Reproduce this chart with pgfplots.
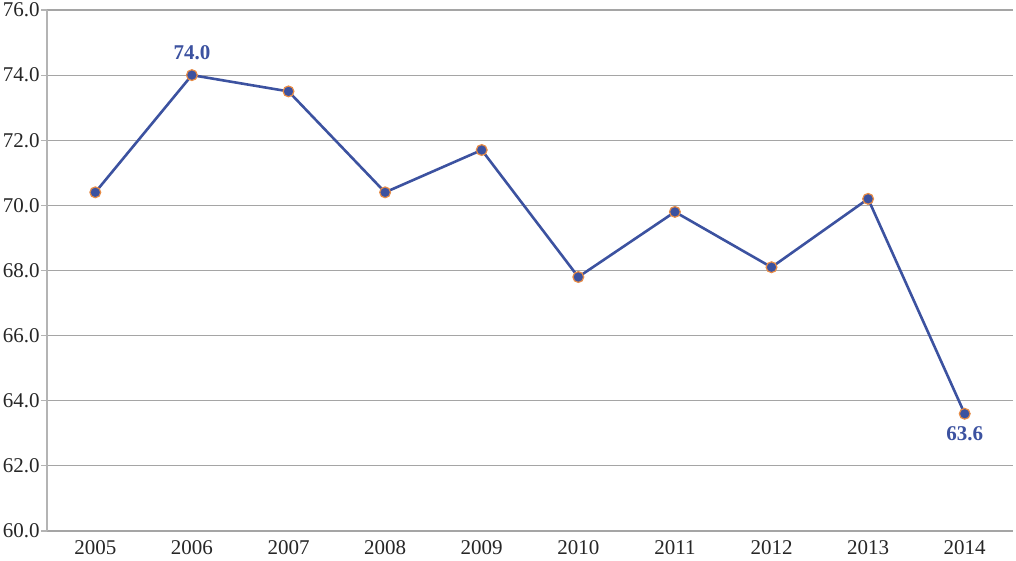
\documentclass[border=0pt]{standalone}
\usepackage{pgfplots}
\pgfplotsset{compat=1.18}
\usepackage{fontspec}
\setmainfont{Liberation Serif}
\usetikzlibrary{calc}
\definecolor{lineblue}{RGB}{60,82,160}
\definecolor{mkorange}{RGB}{232,140,70}
\definecolor{gridgray}{RGB}{165,165,165}
\definecolor{axgray}{RGB}{180,180,180}
\begin{document}
\begin{tikzpicture}
\begin{axis}[
  scale only axis,
  width=483pt, height=260.5pt,
  xmin=-0.5, xmax=9.5,
  ymin=60, ymax=76,
  ytick={60,62,...,76},
  xtick={0,...,9},
  xticklabels={2005,2006,2007,2008,2009,2010,2011,2012,2013,2014},
  extra x ticks={-0.5,0.5,...,9.5},
  extra x tick labels={},
  extra x tick style={major tick length=3pt, tick style={axgray, line width=0.6pt}, grid=none},
  x tick style={draw=none},
  ymajorgrids,
  grid style={gridgray, line width=0.6pt},
  axis x line*=bottom,
  axis y line*=left,
  x axis line style={gridgray, line width=0.7pt, -},
  y axis line style={axgray, line width=0.7pt, -},
  y tick style={axgray, line width=0.6pt},
  tick align=outside,
  major tick length=3pt,
  tick label style={font=\fontsize{10.5}{12}\selectfont, text=black!85},
  /pgf/number format/assume math mode=true,
  yticklabel style={/pgf/number format/.cd, fixed, fixed zerofill, precision=1, /tikz/.cd, inner xsep=0pt, xshift=-0.5pt},
  xticklabel style={yshift=2pt},
  clip=false,
]
\addplot[color=lineblue, line width=1.3pt, mark=*, mark size=2.7pt,
  mark options={fill=lineblue, draw=mkorange, line width=0.6pt}]
  coordinates {(0,70.4) (1,74.0) (2,73.5) (3,70.4) (4,71.7) (5,67.8) (6,69.8) (7,68.1) (8,70.2) (9,63.6)};
\node[above=4pt, text=lineblue, font=\bfseries\fontsize{10.5}{12}\selectfont] at (axis cs:1,74.0) {74.0};
\node[below=3pt, text=lineblue, font=\bfseries\fontsize{10.5}{12}\selectfont] at (axis cs:9,63.6) {63.6};
\end{axis}
\pgfresetboundingbox
\path[use as bounding box] ($(current axis.south west)+(-23.5pt,-15pt)$) rectangle ($(current axis.north east)+(1.5pt,5pt)$);
\end{tikzpicture}
\end{document}
